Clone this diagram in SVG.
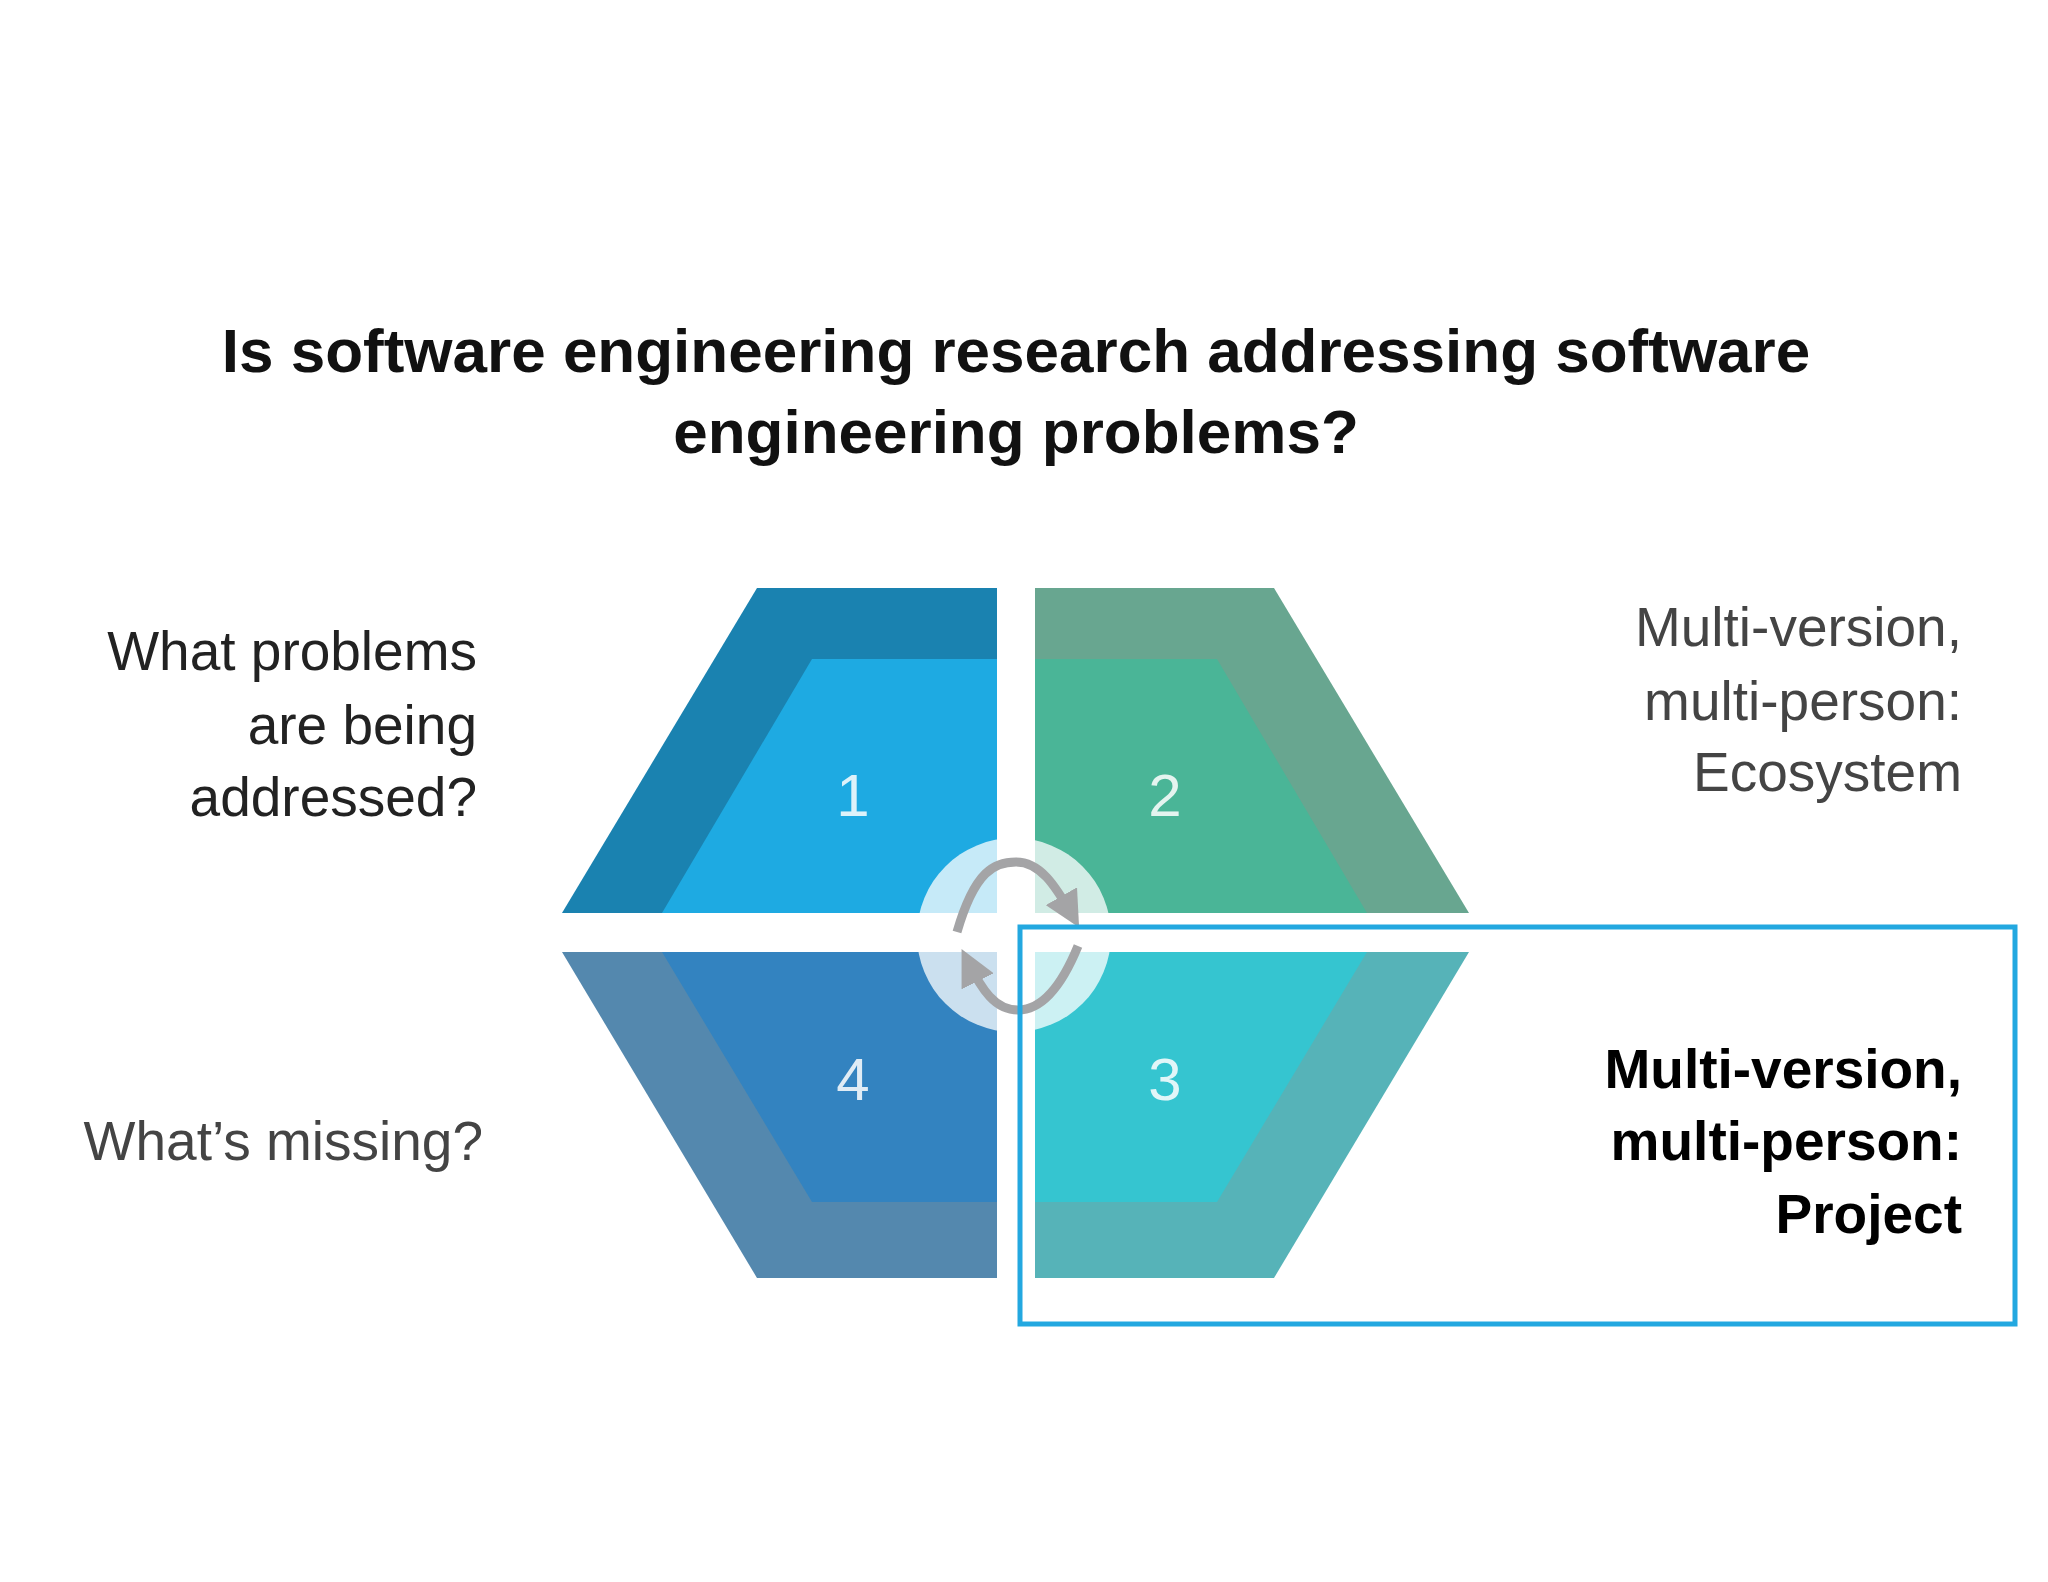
<svg xmlns="http://www.w3.org/2000/svg" width="2048" height="1582" viewBox="0 0 2048 1582">
<style>
text{font-family:"Liberation Sans",Arial,sans-serif}
.t{font-weight:bold;font-size:62px;fill:#111;text-anchor:middle}
.l{font-size:55px;fill:#222;text-anchor:end}
.r{font-size:55px;fill:#444;text-anchor:end}
.b{font-size:55px;fill:#000;font-weight:bold;text-anchor:end}
.n{font-size:60px;fill:#fff;text-anchor:middle;opacity:.85}
.arr{fill:none;stroke:#a4a4a6;stroke-width:9}
</style>
<defs><marker id="ah" viewBox="0 0 10 10" refX="6" refY="5" markerWidth="4" markerHeight="4" orient="auto"><path d="M0,0L10,5L0,10z" fill="#a4a4a6"/></marker></defs>
<rect width="2048" height="1582" fill="#fff"/>
<text class="t" x="1016" y="372">Is software engineering research addressing software</text>
<text class="t" x="1016" y="453">engineering problems?</text>
<g id="q1"><polygon points="757,588 997,588 997,913 562,913" fill="#1a82b0"/><polygon points="812,659 997,659 997,913 662,913" fill="#1eaae2"/><text class="n" x="853" y="816">1</text></g>
<g id="q2"><polygon points="1035,588 1274,588 1469,913 1035,913" fill="#68a690"/><polygon points="1035,659 1217,659 1367,913 1035,913" fill="#4ab597"/><text class="n" x="1165" y="816">2</text></g>
<g id="q4"><polygon points="562,952 997,952 997,1278 757,1278" fill="#5488ae"/><polygon points="662,952 997,952 997,1202 812,1202" fill="#3383c0"/><text class="n" x="853" y="1100">4</text></g>
<g id="q3"><polygon points="1035,952 1469,952 1274,1278 1035,1278" fill="#56b3b8"/><polygon points="1035,952 1367,952 1217,1202 1035,1202" fill="#35c5d0"/><text class="n" x="1165" y="1100">3</text></g>
<g id="hub"><circle cx="1014" cy="935" r="97" fill="#fff" opacity="0.75"/>
<rect x="997" y="580" width="38" height="710" fill="#fff"/><rect x="550" y="913" width="930" height="39" fill="#fff"/></g>
<g id="connectors">
<path class="arr" d="M957,932 C975,870 995,862 1016,862 C1040,862 1055,885 1072,915" marker-end="url(#ah)"/>
<path class="arr" d="M1078,946 C1060,990 1040,1010 1018,1010 C995,1010 982,990 968,962" marker-end="url(#ah)"/>
</g>
<rect id="highlight" x="1020" y="927" width="995" height="397" fill="none" stroke="#23a8e0" stroke-width="5"/>
<g id="labels">
<text class="l" x="477" y="670">What problems</text>
<text class="l" x="477" y="744">are being</text>
<text class="l" x="477" y="816">addressed?</text>
<text class="r" x="483" y="1160">What’s missing?</text>
<text class="r" x="1962" y="646">Multi-version,</text>
<text class="r" x="1962" y="720">multi-person:</text>
<text class="r" x="1962" y="791">Ecosystem</text>
<text class="b" x="1962" y="1088">Multi-version,</text>
<text class="b" x="1962" y="1160">multi-person:</text>
<text class="b" x="1962" y="1233">Project</text>
</g>
</svg>
